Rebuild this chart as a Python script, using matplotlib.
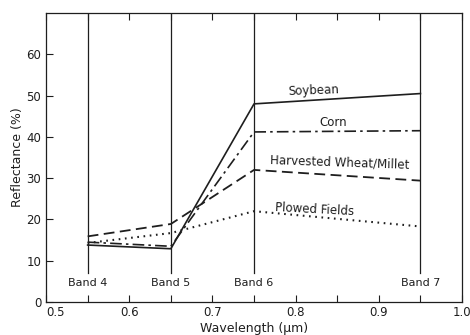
import numpy as np
import matplotlib.pyplot as plt

# Landsat MSS band centres (um) and reflectance (%)
bands = [0.55, 0.65, 0.75, 0.95]
band_names = ['Band 4', 'Band 5', 'Band 6', 'Band 7']
soybean = [13.8, 12.9, 48.0, 50.5]
corn = [14.5, 13.5, 41.2, 41.5]
wheat_millet = [15.9, 18.9, 32.0, 29.4]
plowed = [14.3, 16.7, 22.0, 18.3]

x_major = [0.5, 0.6, 0.7, 0.8, 0.9, 1.0]
x_minor = [0.55, 0.65, 0.75, 0.85, 0.95]
y_ticks = [0, 10, 20, 30, 40, 50, 60]

ink = '#1e1e1e'
plt.rcParams['font.family'] = 'DejaVu Sans'
plt.rcParams['font.size'] = 8.5

fig = plt.figure(figsize=(4.7, 3.35), dpi=100)
ax = fig.add_axes([0.098, 0.0985, 0.885, 0.8625])

# vertical band markers
for b, name in zip(bands, band_names):
    ax.plot([b, b], [7, 70], color=ink, lw=0.9)
    ax.text(b, 4.6, name, ha='center', va='center', color=ink, fontsize=8)

ax.plot(bands, soybean, color=ink, lw=1.2, ls='-')
ax.plot(bands, corn, color=ink, lw=1.2, ls=(0, (7, 2.5, 1.5, 2.5)))
ax.plot(bands, wheat_millet, color=ink, lw=1.3, ls=(0, (6, 3)))
ax.plot(bands, plowed, color=ink, lw=1.5, ls=(0, (0.8, 2.2)))

ax.text(0.822, 51.3, 'Soybean', ha='center', va='center', color=ink, rotation=2)
ax.text(0.845, 43.4, 'Corn', ha='center', va='center', color=ink)
ax.text(0.853, 33.8, 'Harvested Wheat/Millet', ha='center', va='center', color=ink, rotation=-2)
ax.text(0.823, 22.4, 'Plowed Fields', ha='center', va='center', color=ink, rotation=-3)

ax.set_xlim(0.5, 1.0)
ax.set_ylim(0, 70)
ax.set_xticks(x_major)
ax.set_xticklabels(['0.5', '0.6', '0.7', '0.8', '0.9', '1.0'])
ax.set_xticks(x_minor, minor=True)
ax.set_yticks(y_ticks)
ax.tick_params(which='both', direction='in', top=True, colors=ink, labelcolor=ink)
ax.tick_params(which='both', length=5, width=0.8)
ax.tick_params(axis='x', pad=3)
for s in ax.spines.values():
    s.set_color(ink)
    s.set_linewidth(0.9)

ax.set_xlabel('Wavelength (\u03bcm)', color=ink, labelpad=2, fontsize=9)
ax.set_ylabel('Reflectance (%)', color=ink, labelpad=2, fontsize=9)

# the first x label sits to the right of the corner, clear of the "0"
fig.canvas.draw()
ax.xaxis.get_major_ticks()[0].label1.set_horizontalalignment('left')

fig.savefig('out.png', dpi=100)
